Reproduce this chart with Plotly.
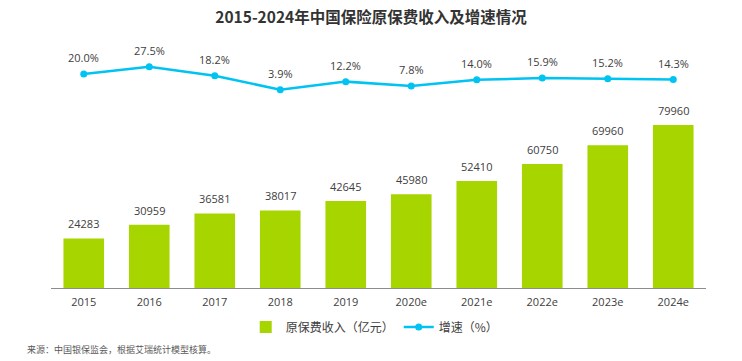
import plotly.graph_objects as go

years = ["2015", "2016", "2017", "2018", "2019", "2020e", "2021e", "2022e", "2023e", "2024e"]
premium = [24283, 30959, 36581, 38017, 42645, 45980, 52410, 60750, 69960, 79960]
growth = [20.0, 27.5, 18.2, 3.9, 12.2, 7.8, 14.0, 15.9, 15.2, 14.3]
growth_labels = [f"{v:.1f}%" for v in growth]
premium_labels = [str(v) for v in premium]

BAR_COLOR = "#a6d500"
LINE_COLOR = "#00c3f2"
TEXT_COLOR = "#404040"
NUM_FONT = "Open Sans, Noto Sans, sans-serif"
CJK_FONT = "Noto Sans CJK SC, sans-serif"

fig = go.Figure()
fig.add_trace(go.Bar(
    x=years, y=premium, name="原保费收入（亿元）",
    marker=dict(color=BAR_COLOR, line=dict(width=0)),
))
fig.add_trace(go.Scatter(
    x=years, y=growth, name="增速（%）", yaxis="y2",
    mode="lines+markers",
    line=dict(color=LINE_COLOR, width=2.5),
    marker=dict(color=LINE_COLOR, size=7),
    cliponaxis=False,
))

for i, (v, t) in enumerate(zip(premium, premium_labels)):
    fig.add_annotation(x=i, y=v, xref="x", yref="y", text=t, showarrow=False,
                       yanchor="bottom", yshift=5,
                       font=dict(size=11, color=TEXT_COLOR, family=NUM_FONT))
for i, (v, t) in enumerate(zip(growth, growth_labels)):
    fig.add_annotation(x=i, y=v, xref="x", yref="y2", text=t, showarrow=False,
                       yanchor="bottom", yshift=7,
                       font=dict(size=11, color=TEXT_COLOR, family=NUM_FONT))

fig.update_layout(
    width=742, height=361,
    margin=dict(l=51, r=36, t=40, b=73, autoexpand=False),
    paper_bgcolor="white", plot_bgcolor="white",
    bargap=0.38,
    title=dict(text="<b>2015-2024年中国保险原保费收入及增速情况</b>",
               x=0.5, xanchor="center", xref="container",
               y=1 - 18 / 361, yanchor="middle", yref="container",
               font=dict(size=15.5, color="#333333", family=CJK_FONT)),
    xaxis=dict(type="category", range=[-0.5, len(years) - 0.5],
               showgrid=False, showline=True, linecolor="#8c8c8c",
               linewidth=1, ticks="outside", ticklen=4, tickcolor="rgba(0,0,0,0)",
               tickfont=dict(size=11, color=TEXT_COLOR, family=NUM_FONT)),
    yaxis=dict(range=[0, 121600], visible=False, showgrid=False),
    yaxis2=dict(range=[-199.5, 54.9], overlaying="y", side="right",
                visible=False, showgrid=False),
    legend=dict(orientation="h", x=0.505, xanchor="center", xref="container",
                y=1 - 327 / 361, yanchor="middle", yref="container",
                font=dict(size=12, color=TEXT_COLOR, family=CJK_FONT),
                itemwidth=30),
    showlegend=True,
)
fig.add_annotation(
    text="来源：中国银保监会，根据艾瑞统计模型核算。",
    xref="paper", yref="paper", x=(25 - 51) / 655, y=-(349 - 288) / 248,
    xanchor="left", yanchor="middle", showarrow=False,
    font=dict(size=9, color="#595959", family=CJK_FONT),
)
fig.write_html("out.html", config={"displayModeBar": False},
               post_script="document.body.style.margin='0';document.body.style.overflow='hidden';")
